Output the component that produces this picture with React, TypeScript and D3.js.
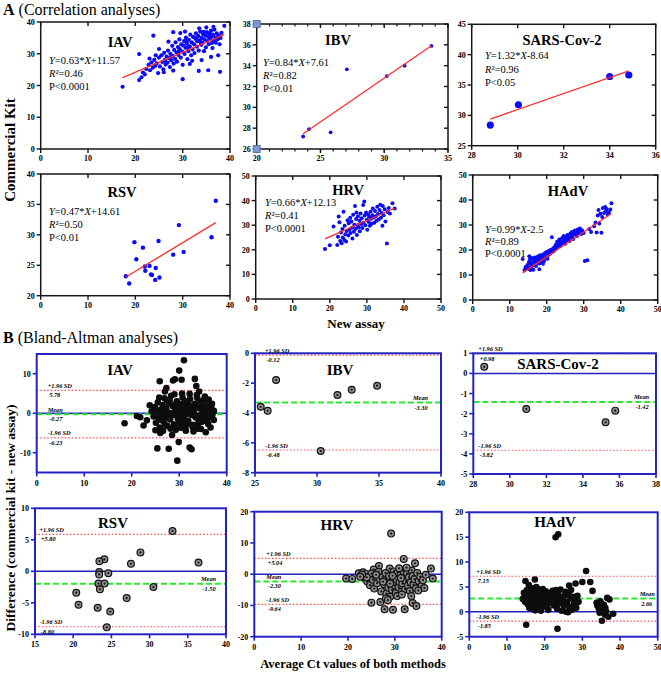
import React from "react";
import * as d3 from "d3";

type Pt = [number, number];

// ---------- A: correlation data  [new assay Ct, commercial kit Ct] ----------
const iavCorr: Pt[] = [
  [17.3, 19.6], [20.8, 21.7], [20.8, 29.9], [23.8, 35.7], [28.0, 36.8], [30.0, 22.0], [37.9, 24.3], [38.8, 38.8],
  [33.4, 24.6], [35.4, 24.8], [21.3, 22.6], [21.6, 24.1],
  [22.0, 23.5], [22.3, 25.2], [22.8, 26.5], [23.1, 24.8], [23.4, 27.3], [23.7, 25.6], [24.0, 28.1], [24.2, 26.2],
  [24.5, 27.0], [24.8, 23.9], [25.0, 28.8], [25.2, 26.0], [25.5, 29.5], [25.7, 27.4], [25.9, 25.1], [26.1, 30.3],
  [26.2, 28.0], [26.4, 26.6], [26.6, 29.1], [26.8, 27.2], [26.9, 31.0], [27.1, 28.6], [27.3, 25.8], [27.4, 30.0],
  [27.6, 27.9], [27.8, 32.5], [27.9, 29.3], [28.1, 26.9], [28.2, 31.2], [28.4, 28.4], [28.5, 33.6], [28.7, 30.4],
  [28.8, 27.5], [29.0, 32.1], [29.1, 29.6], [29.3, 34.5], [29.4, 31.5], [29.6, 28.8], [29.7, 33.0], [29.9, 30.7],
  [30.0, 26.5], [30.1, 32.6], [30.3, 34.0], [30.4, 29.9], [30.6, 31.9], [30.7, 35.1], [30.9, 33.2], [31.0, 28.3],
  [31.2, 30.8], [31.3, 34.4], [31.5, 32.3], [31.6, 36.0], [31.8, 29.5], [31.9, 33.6], [32.1, 31.4], [32.2, 35.3],
  [32.4, 33.0], [32.5, 30.2], [32.7, 34.7], [32.8, 36.4], [33.0, 32.2], [33.1, 33.9], [33.3, 35.6], [33.4, 31.0],
  [33.6, 34.2], [33.7, 37.0], [33.9, 32.8], [34.0, 35.0], [34.2, 33.4], [34.3, 36.2], [34.5, 30.8], [34.6, 34.5],
  [34.8, 35.8], [34.9, 32.0], [35.1, 36.8], [35.2, 34.0], [35.4, 35.3], [35.5, 33.0], [35.7, 36.5], [35.8, 34.8],
  [36.0, 37.3], [36.1, 35.5], [36.3, 31.8], [36.4, 36.0], [36.6, 34.2], [36.7, 37.6], [36.9, 35.1], [37.0, 33.5],
  [37.2, 36.4], [37.4, 34.6], [37.6, 35.8], [37.8, 33.0], [38.0, 35.0], [38.2, 36.6], [26.0, 24.2], [27.0, 33.8],
  [25.0, 31.5], [24.3, 29.5], [23.0, 28.5], [28.0, 24.7], [31.5, 26.8], [32.0, 27.8], [29.5, 36.5], [30.5, 37.0],
  [33.5, 38.0], [35.0, 38.3], [36.5, 38.5], [36.0, 29.0], [37.5, 29.5], [34.0, 28.0], [30.8, 34.2], [32.9, 35.0],
  [34.4, 36.9], [35.6, 35.9], [36.2, 33.4], [31.1, 32.0], [29.2, 30.8], [27.5, 28.9], [26.3, 27.6], [33.8, 33.6],
];
const ibvCorr: Pt[] = [
  [23.64, 27.2], [24.1, 27.9], [25.8, 27.6], [27.07, 33.65], [30.2, 33.0], [31.6, 34.0], [33.7, 35.9],
];
const sarsCorr: Pt[] = [
  [28.81, 28.4], [30.03, 31.75], [34.0, 36.4], [34.83, 36.65],
];
const rsvCorr: Pt[] = [
  [18.0, 23.2], [18.7, 22.0], [19.8, 28.8], [20.2, 26.0], [21.6, 27.9], [22.0, 24.8], [22.1, 24.1], [23.0, 24.9],
  [23.3, 23.5], [23.5, 23.4], [24.3, 24.55], [24.2, 22.6], [24.9, 29.0], [25.1, 23.0], [28.0, 26.75], [29.2, 31.6],
  [30.2, 27.2], [36.1, 29.6], [37.0, 35.6],
];
const hrvCorr: Pt[] = [
  [18.7, 20.3], [20.0, 21.8], [21.0, 29.5], [22.0, 22.0], [22.2, 25.3], [22.4, 33.5], [22.6, 31.2], [22.8, 23.6],
  [23.0, 27.0], [23.2, 22.7], [23.4, 28.5], [23.5, 25.0], [23.7, 35.5], [23.9, 24.0], [24.0, 29.8], [24.2, 26.3],
  [24.4, 23.4], [24.6, 27.6], [24.8, 32.0], [25.0, 25.8], [25.1, 30.8], [25.3, 28.3], [25.5, 33.0], [25.6, 26.8],
  [25.8, 31.5], [26.0, 29.0], [26.1, 24.6], [26.3, 34.2], [26.5, 27.3], [26.6, 30.2], [26.8, 37.8], [27.0, 28.6],
  [27.1, 32.5], [27.3, 26.0], [27.5, 30.0], [27.6, 33.6], [27.8, 29.2], [28.0, 31.8], [28.1, 27.5], [28.3, 34.8],
  [28.5, 30.5], [28.6, 32.8], [28.8, 28.9], [29.0, 38.2], [29.1, 31.0], [29.3, 39.6], [29.4, 33.9], [29.6, 30.0],
  [29.8, 35.2], [30.0, 32.2], [30.1, 28.1], [30.3, 34.5], [30.5, 31.3], [30.6, 33.4], [30.8, 29.8], [31.0, 35.5],
  [31.1, 32.6], [31.3, 30.6], [31.5, 34.0], [31.6, 36.8], [31.8, 33.1], [32.0, 31.0], [32.2, 35.8], [32.4, 33.6],
  [32.6, 31.8], [32.8, 37.5], [33.0, 34.6], [33.2, 32.3], [33.4, 36.2], [33.6, 38.3], [33.8, 33.0], [34.0, 35.0],
  [34.2, 29.8], [34.3, 37.8], [34.5, 34.0], [34.8, 36.5], [35.0, 31.5], [35.4, 22.6], [35.6, 35.4], [35.9, 37.0],
  [36.2, 34.8], [36.9, 38.9], [37.5, 36.8], [27.2, 35.2],
];
const hadvCorr: Pt[] = [
  [13.5, 16.4], [14.0, 12.0], [14.3, 13.2], [14.6, 12.5], [14.8, 14.0], [15.0, 13.0], [15.2, 15.2], [15.3, 17.5],
  [15.4, 12.3], [15.5, 16.3], [15.6, 12.0], [15.7, 14.5], [15.8, 13.4], [16.0, 16.8], [16.1, 15.0], [16.3, 13.8],
  [16.4, 12.1], [16.5, 15.9], [16.7, 14.2], [16.8, 17.0], [17.0, 15.4], [17.1, 13.6], [17.3, 16.4], [17.4, 14.8],
  [17.6, 17.4], [17.7, 15.8], [17.9, 16.8], [18.0, 14.6], [18.0, 12.3], [18.2, 17.9], [18.3, 16.2], [18.5, 15.2],
  [18.6, 17.3], [18.8, 16.0], [19.0, 18.2], [19.0, 14.5], [19.1, 16.9], [19.3, 15.6], [19.4, 17.6], [19.6, 18.8],
  [19.8, 17.0], [20.0, 19.2], [20.2, 16.5], [20.4, 18.0], [20.6, 19.6], [20.8, 18.4], [21.0, 20.0], [21.2, 19.0],
  [21.4, 25.1], [21.6, 20.4], [21.8, 19.4], [22.0, 21.0], [22.2, 20.2], [22.4, 22.0], [22.6, 20.8], [22.8, 23.3],
  [23.0, 21.6], [23.2, 22.7], [23.4, 24.2], [23.6, 21.5], [23.8, 23.6], [24.0, 22.4], [24.2, 24.8], [24.4, 23.2],
  [24.6, 25.6], [24.8, 24.0], [25.0, 22.5], [25.2, 25.2], [25.4, 23.8], [25.6, 26.0], [25.8, 24.6], [26.0, 25.4],
  [26.2, 23.6], [26.4, 26.6], [26.6, 25.0], [26.8, 27.2], [27.0, 25.8], [27.2, 24.4], [27.4, 26.8], [27.6, 27.8],
  [27.8, 26.2], [28.0, 27.4], [28.2, 25.6], [28.4, 28.2], [28.6, 26.8], [28.8, 27.6], [29.0, 28.6], [29.3, 26.4],
  [29.6, 27.8], [30.0, 26.8], [30.3, 15.6], [31.0, 15.9], [31.5, 28.4], [32.0, 27.2], [32.8, 29.5], [33.2, 31.0],
  [33.5, 27.0], [33.8, 33.8], [34.0, 36.0], [34.2, 30.6], [34.5, 34.5], [34.8, 26.9], [35.0, 33.2], [35.2, 36.8],
  [35.5, 34.8], [35.8, 37.2], [36.0, 35.6], [36.2, 36.4], [36.5, 34.2], [36.8, 35.0], [37.2, 36.2], [37.5, 38.7],
];

// regression results printed in each panel
const corrNames = ["IAV", "IBV", "SARS-Cov-2", "RSV", "HRV", "HAdV"];
const corrSlopes = [0.63, 0.84, 1.32, 0.47, 0.66, 0.99];
const corrIntercepts = [11.57, 7.61, -8.64, 14.61, 12.13, -2.5];
const corrR2 = ["0.46", "0.82", "0.96", "0.50", "0.41", "0.89"];
const corrP = ["P<0.0001", "P<0.01", "P<0.05", "P<0.01", "P<0.0001", "P<0.0001"];

// ---------- B: Bland-Altman data  [average Ct, difference] ----------
const iavBA: Pt[] = [
  [18.5, -2.55], [21.1, -0.7], [21.8, -1.0], [22.5, -3.1], [23.2, -1.8], [23.8, 2.0], [24.2, 0.5], [25.4, -8.9],
  [27.8, -9.0], [31.0, 13.4], [30.0, 10.8], [30.5, 8.5], [28.7, 8.3], [29.1, 8.6], [25.9, 8.1], [33.3, 8.7],
  [29.6, -12.0], [32.2, -8.7], [32.6, -9.1], [29.9, -7.3], [37.3, -1.7], [35.6, -4.8], [27.3, 6.4], [33.6, 6.9],
  [34.2, 5.5], [28.5, -5.5], [26.0, -5.0], [27.0, 5.5],
  [24.6, -0.8], [24.9, 1.6], [25.1, -2.4], [25.3, 0.4], [25.5, 2.8], [25.7, -1.2], [25.9, -3.6], [26.1, 0.9],
  [26.3, -0.3], [26.5, 2.1], [26.7, -2.0], [26.9, 3.8], [27.1, -0.9], [27.3, 1.2], [27.5, -3.2], [27.7, 0.2],
  [27.9, 2.5], [28.1, -1.6], [28.3, 4.4], [28.5, -0.5], [28.7, 1.8], [28.9, -2.8], [29.1, 0.6], [29.3, -4.2],
  [29.5, 3.0], [29.7, -1.3], [29.9, 1.1], [30.1, -0.2], [30.3, 2.3], [30.5, -2.5], [30.7, 4.0], [30.9, -0.7],
  [31.1, 1.5], [31.3, -3.5], [31.5, 0.3], [31.7, 2.7], [31.9, -1.9], [32.1, 0.9], [32.3, 3.6], [32.5, -0.4],
  [32.7, 1.9], [32.9, -2.9], [33.1, 0.1], [33.3, 2.4], [33.5, -1.1], [33.7, 4.6], [33.9, -3.9], [34.1, 1.3],
  [34.3, -0.6], [34.5, 2.9], [34.7, -2.2], [34.9, 0.5], [35.1, 3.3], [35.3, -1.5], [35.5, 1.0], [35.7, -0.1],
  [35.9, 2.0], [36.1, -2.7], [36.3, 0.7], [36.5, -1.0], [36.8, 1.4], [37.0, -0.4], [37.3, 0.6],
  [25.0, -4.3], [25.8, 4.0], [26.6, -4.5], [27.4, 3.3], [28.2, -3.9], [29.0, 4.8], [29.8, -3.0], [30.6, 5.0],
  [31.4, -4.4], [32.2, 4.9], [33.0, -4.6], [33.8, 3.9], [34.6, -4.0], [35.4, 4.2], [36.2, 3.5], [36.6, -3.6],
  [30.2, 1.7], [31.0, -1.6], [31.8, -0.2], [32.6, 0.8], [33.4, -0.9], [34.2, -1.3], [35.0, -0.3], [30.8, 0.4],
  [29.4, -0.3], [28.6, 0.0], [27.8, -1.0], [26.8, 0.5], [32.0, 2.0], [33.6, 1.6], [34.8, 1.8], [31.6, -2.8],
  [30.0, -1.8], [29.2, 2.2], [28.0, 3.2], [27.0, -2.9], [26.2, -1.7], [34.0, -2.6], [35.8, -2.0], [36.9, 2.4],
  [32.8, -3.4], [31.2, 3.1], [30.4, -3.7],
];
const ibvBA: Pt[] = [
  [25.46, -3.58], [26.02, -3.85], [26.7, -1.79], [30.3, -6.55], [31.65, -2.8], [32.8, -2.44], [34.85, -2.17],
];
const sarsBA: Pt[] = [
  [28.6, 0.33], [30.9, -1.77], [35.24, -2.43], [35.77, -1.85],
];
const rsvBA: Pt[] = [
  [33.0, 6.4], [28.8, 3.0], [24.08, 1.9], [23.43, 1.6], [27.56, 1.2], [36.4, 1.4], [23.4, -0.1], [23.4, -0.5],
  [24.6, -0.3], [23.3, -1.95], [24.1, -1.95], [23.5, -2.85], [30.5, -2.5], [20.4, -3.4], [20.7, -5.3],
  [27.0, -4.25], [23.2, -5.8], [24.85, -6.4], [24.4, -8.9],
];
const hrvBA: Pt[] = [
  [29.2, 13.0], [19.6, -1.4], [20.9, -1.5], [25.0, -9.1], [26.9, -8.9], [27.8, -11.2], [29.6, -11.4], [32.1, -11.2],
  [31.9, 4.9], [34.3, 3.5], [37.7, 1.8], [38.1, -1.4], [33.8, -9.2], [34.6, -10.2], [26.6, 2.6], [25.5, 1.5],
  [28.9, 1.8],
  [22.3, 0.3], [22.8, -0.5], [23.2, 0.6], [23.5, -1.2], [23.8, 0.1], [24.1, -2.3], [24.4, -0.8], [24.7, -3.5],
  [25.0, 0.2], [25.3, -1.8], [25.6, -4.6], [25.9, -0.4], [26.2, -2.9], [26.5, 0.8], [26.8, -1.5], [27.1, -5.5],
  [27.4, -0.9], [27.7, -3.2], [28.0, 0.4], [28.2, -6.2], [28.4, -2.0], [28.6, -4.3], [28.8, -0.6], [29.0, -7.2],
  [29.2, -2.8], [29.4, -5.0], [29.6, -1.0], [29.8, 0.9], [30.0, -3.6], [30.2, -6.0], [30.4, -1.8], [30.6, 0.5],
  [30.8, -4.2], [31.0, -2.5], [31.2, -0.3], [31.4, -5.6], [31.6, -3.0], [31.8, 1.0], [32.0, -1.4], [32.2, -4.8],
  [32.4, -2.2], [32.6, 0.2], [32.8, -3.6], [33.0, -1.0], [33.2, -5.4], [33.4, -2.6], [33.6, 1.2], [33.8, -0.6],
  [34.0, -3.4], [34.2, -1.6], [34.5, -4.6], [34.8, 0.4], [35.1, -2.2], [35.4, -0.8], [35.7, -3.8], [36.0, -1.9],
  [36.3, -4.4], [36.6, -0.2], [28.1, -7.8], [28.5, -8.3], [29.0, -3.0], [30.5, -7.0], [31.5, -6.5], [27.5, -2.4],
  [26.0, -0.2], [24.0, -1.0], [23.0, -0.1], [22.6, -0.8], [33.5, -7.0], [35.0, -5.2], [30.9, 1.9], [32.5, 2.1],
  [29.5, -0.5], [31.3, -1.2],
];
const hadvBA: Pt[] = [
  [22.9, 15.0], [23.6, 15.6], [23.4, -3.4], [15.1, -2.6], [31.0, 8.2], [35.2, -1.8], [38.2, -0.4], [30.0, 6.0],
  [32.1, 6.0], [32.7, 4.2], [14.9, 6.2], [17.4, 6.5], [28.2, 5.7], [26.5, 5.3],
  [14.2, 2.6], [14.5, 3.8], [14.8, 2.0], [15.0, 3.3], [15.3, 4.4], [15.5, 1.5], [15.7, 2.8], [15.9, 0.8],
  [16.1, 3.6], [16.3, 2.2], [16.5, 4.8], [16.7, 1.2], [16.9, 3.0], [17.1, 2.0], [17.3, 4.2], [17.5, 0.3],
  [17.6, 2.6], [17.8, 3.5], [18.0, 1.6], [18.2, 4.6], [18.4, 2.3], [18.6, 0.9], [18.8, 3.2], [19.0, 1.9],
  [19.2, 3.9], [19.4, 2.7], [19.6, 1.1], [19.8, 3.4], [20.0, 2.2], [20.3, 4.1], [20.6, 1.5], [20.9, 2.9],
  [21.2, 3.7], [21.5, 1.8], [21.8, 2.6], [22.1, 4.2], [22.4, 1.3], [22.7, 3.1], [23.0, 2.0], [23.3, 0.6],
  [23.6, 3.5], [23.9, 1.7], [24.2, 4.5], [24.5, 0.2], [24.8, 2.4], [25.1, 1.2], [25.4, 3.3], [25.7, 0.0],
  [26.0, 2.0], [26.3, 3.6], [26.6, 1.0], [26.9, 2.7], [27.2, 0.4], [27.5, 3.0], [27.8, 1.6], [28.1, 2.4],
  [28.4, 0.8], [28.7, 3.2], [29.0, 2.0], [16.0, 1.0], [17.0, 0.5], [18.5, 1.4], [19.5, 4.6], [20.5, 0.9],
  [21.0, 0.4], [22.0, 2.0], [24.0, 3.0], [25.5, 4.0], [27.0, 4.4], [17.8, 5.0], [15.8, 5.4], [19.0, 0.2],
  [23.0, 4.4], [26.2, -0.1], [34.0, 1.2], [34.4, 0.6], [34.8, 2.1], [35.0, 1.6], [35.4, 0.4], [35.7, 1.4],
  [36.0, -0.6], [36.3, 0.1], [36.6, 2.8], [36.9, -1.0], [37.2, 2.5], [36.1, 0.8], [34.6, -0.2], [33.8, 1.8],
];

// limits of agreement: [upper, mean, lower] line positions and printed labels
const baLimitValues = [
  [5.78, -0.27, -6.23],
  [-0.12, -3.3, -6.48],
  [0.98, -1.42, -3.82],
  [5.85, -1.97, -8.8],
  [5.04, -2.3, -9.64],
  [7.15, 2.66, -1.85],
];
const baLimitLabels = [
  ["5.78", "-0.27", "-6.23"],
  ["-0.12", "-3.30", "-6.48"],
  ["+0.98", "-1.42", "-3.82"],
  ["+5.80", "-1.50", "-8.80"],
  ["+5.04", "-2.30", "-9.64"],
  ["7.15", "2.66", "-1.85"],
];

// tick values
const t0to40 = [0, 10, 20, 30, 40];
const t0to50 = [0, 10, 20, 30, 40, 50];
const ibvXTicks = [20, 25, 30, 35];
const ibvYTicks = [26, 28, 30, 32, 34, 36, 38];
const sarsXTicks = [28, 30, 32, 34, 36];
const sarsYTicks = [25, 30, 35, 40, 45];
const rsvYTicks = [20, 25, 30, 35, 40];
const iavBaYTicks = [-10, 0, 10];
const ibvBaXTicks = [25, 30, 35, 40];
const ibvBaYTicks = [0, -2, -4, -6, -8];
const sarsBaXTicks = [28, 30, 32, 34, 36, 38];
const sarsBaYTicks = [1, 0, -1, -2, -3, -4, -5];
const rsvBaXTicks = [15, 20, 25, 30, 35, 40];
const rsvBaYTicks = [-10, -5, 0, 5, 10];
const hrvBaYTicks = [-20, -10, 0, 10, 20];
const hadvBaYTicks = [-5, 0, 5, 10, 15, 20];

const FONT = "'Liberation Serif', 'Times New Roman', serif";
const FRAME_BLUE = "#2323c2";
const DOT_BLUE = "#0b0bf5";
const FIT_RED = "#ff2d2d";

type Box = { l: number; r: number; t: number; b: number };

type CorrSpec = {
  idx: number;
  box: Box;
  xDomain: [number, number];
  yDomain: [number, number];
  xTicks: number[];
  yTicks: number[];
  xMinor?: number;
  points: Pt[];
  r: number;
  title: [number, number];
  eq: [number, number];
  gap: number;
  corner?: boolean;
};

const corrSpecs: CorrSpec[] = [
  { idx: 0, box: { l: 40.7, r: 230, t: 22, b: 149 }, xDomain: [0, 40], yDomain: [0, 40], xTicks: t0to40, yTicks: t0to40, points: iavCorr, r: 2.1, title: [120, 47], eq: [49, 64], gap: 13 },
  { idx: 1, box: { l: 256.7, r: 448, t: 24, b: 149 }, xDomain: [20, 35], yDomain: [26, 38], xTicks: ibvXTicks, yTicks: ibvYTicks, xMinor: 1, points: ibvCorr, r: 1.9, title: [338, 45], eq: [263, 66], gap: 13, corner: true },
  { idx: 2, box: { l: 471.7, r: 655.7, t: 24.3, b: 145.7 }, xDomain: [28, 36], yDomain: [25, 45], xTicks: sarsXTicks, yTicks: sarsYTicks, points: sarsCorr, r: 3.6, title: [562, 45], eq: [485, 59], gap: 13.5 },
  { idx: 3, box: { l: 40.7, r: 230, t: 174, b: 295.7 }, xDomain: [0, 40], yDomain: [20, 40], xTicks: t0to40, yTicks: rsvYTicks, points: rsvCorr, r: 2.2, title: [122, 197], eq: [49, 215], gap: 13 },
  { idx: 4, box: { l: 255.7, r: 441, t: 176, b: 299 }, xDomain: [0, 50], yDomain: [0, 50], xTicks: t0to50, yTicks: t0to50, points: hrvCorr, r: 2.0, title: [348, 195], eq: [265, 206], gap: 13 },
  { idx: 5, box: { l: 472.7, r: 657.7, t: 175, b: 300 }, xDomain: [0, 50], yDomain: [0, 50], xTicks: t0to50, yTicks: t0to50, points: hadvCorr, r: 2.0, title: [568, 196], eq: [485, 233], gap: 11.8 },
];

type BASpec = {
  idx: number;
  box: Box;
  xDomain: [number, number];
  yDomain: [number, number];
  xTicks: number[];
  yTicks: number[];
  points: Pt[];
  solid: boolean;
  title: [number, number];
  bold: boolean;
  sides: ("L" | "R")[];
  lx: number;
  rx: number;
};

const baNames = ["IAV", "IBV", "SARS-Cov-2", "RSV", "HRV", "HAdV"];
const baSpecs: BASpec[] = [
  { idx: 0, box: { l: 36.7, r: 226.7, t: 354, b: 472.5 }, xDomain: [0, 40], yDomain: [-15, 15], xTicks: t0to40, yTicks: iavBaYTicks, points: iavBA, solid: true, title: [120, 375], bold: true, sides: ["L", "L", "L"], lx: 11, rx: 0 },
  { idx: 1, box: { l: 255, r: 441, t: 353.3, b: 472.7 }, xDomain: [25, 40], yDomain: [-8, 0], xTicks: ibvBaXTicks, yTicks: ibvBaYTicks, points: ibvBA, solid: false, title: [340, 375], bold: false, sides: ["L", "R", "L"], lx: 10, rx: 28 },
  { idx: 2, box: { l: 473.3, r: 656, t: 353.3, b: 474 }, xDomain: [28, 38], yDomain: [-5, 1], xTicks: sarsBaXTicks, yTicks: sarsBaYTicks, points: sarsBA, solid: false, title: [558, 369], bold: true, sides: ["L", "R", "L"], lx: 5, rx: 22 },
  { idx: 3, box: { l: 35, r: 226, t: 508.3, b: 634.3 }, xDomain: [15, 40], yDomain: [-10, 10], xTicks: rsvBaXTicks, yTicks: rsvBaYTicks, points: rsvBA, solid: false, title: [113, 528], bold: false, sides: ["L", "R", "L"], lx: 4.5, rx: 25 },
  { idx: 4, box: { l: 254.3, r: 441.7, t: 511.7, b: 636.7 }, xDomain: [0, 40], yDomain: [-20, 20], xTicks: t0to40, yTicks: hrvBaYTicks, points: hrvBA, solid: false, title: [337, 530], bold: false, sides: ["L", "L", "L"], lx: 12, rx: 0 },
  { idx: 5, box: { l: 469.3, r: 657.7, t: 512.3, b: 636.7 }, xDomain: [0, 50], yDomain: [-5, 20], xTicks: t0to50, yTicks: hadvBaYTicks, points: hadvBA, solid: true, title: [555, 527], bold: false, sides: ["L", "R", "L"], lx: 7, rx: 18 },
];

function CorrPanel({ p }: { p: CorrSpec }) {
  const { box } = p;
  const x = d3.scaleLinear().domain(p.xDomain).range([box.l, box.r]);
  const y = d3.scaleLinear().domain(p.yDomain).range([box.b, box.t]);
  const slope = corrSlopes[p.idx];
  const icpt = corrIntercepts[p.idx];
  const ext = d3.extent(p.points, (d) => d[0]) as [number, number];
  const fit = d3.line<number>().x((v) => x(v)).y((v) => y(slope * v + icpt))(ext) || "";
  const minor = p.xMinor ? d3.range(p.xDomain[0], p.xDomain[1] + 0.001, p.xMinor) : [];
  const ink = "#161616";
  return (
    <g>
      <rect x={box.l} y={box.t} width={box.r - box.l} height={box.b - box.t} fill="none" stroke={ink} strokeWidth={1.5} />
      {minor.map((t) => (
        <g key={"m" + t}>
          <line x1={x(t)} x2={x(t)} y1={box.b} y2={box.b + 2.5} stroke={ink} strokeWidth={1.2} />
          <line x1={x(t)} x2={x(t)} y1={box.t} y2={box.t + 2.5} stroke={ink} strokeWidth={1.2} />
        </g>
      ))}
      {p.xTicks.map((t) => (
        <g key={"x" + t}>
          <line x1={x(t)} x2={x(t)} y1={box.b} y2={box.b + 4} stroke={ink} strokeWidth={1.4} />
          <line x1={x(t)} x2={x(t)} y1={box.t} y2={box.t + 4} stroke={ink} strokeWidth={1.4} />
          <text x={x(t)} y={box.b + 12} textAnchor="middle" fontSize={8} fontWeight="bold">{t}</text>
        </g>
      ))}
      {p.yTicks.map((t) => (
        <g key={"y" + t}>
          <line x1={box.l - 4} x2={box.l} y1={y(t)} y2={y(t)} stroke={ink} strokeWidth={1.4} />
          <line x1={box.r - 4} x2={box.r} y1={y(t)} y2={y(t)} stroke={ink} strokeWidth={1.4} />
          <text x={box.l - 6} y={y(t) + 3} textAnchor="end" fontSize={8} fontWeight="bold">{t}</text>
        </g>
      ))}
      {p.corner && [box.t, box.b].map((cy) => (
        <rect key={"c" + cy} x={box.l - 3.5} y={cy - 3.5} width={7} height={7} fill="#7c97c9" stroke="#4d6aa6" strokeWidth={0.8} />
      ))}
      {p.points.map((d, i) => (
        <circle key={i} cx={x(d[0])} cy={y(d[1])} r={p.r} fill={DOT_BLUE} />
      ))}
      <path d={fit} stroke={FIT_RED} strokeWidth={1.3} fill="none" />
      <text x={p.title[0]} y={p.title[1]} textAnchor="middle" fontSize={14.5} fontWeight="bold">{corrNames[p.idx]}</text>
      <g fontSize={10.5}>
        <text x={p.eq[0]} y={p.eq[1]}>
          <tspan fontStyle="italic">Y</tspan>
          <tspan>{"=" + slope + "*"}</tspan>
          <tspan fontStyle="italic">X</tspan>
          <tspan>{(icpt < 0 ? "-" : "+") + Math.abs(icpt)}</tspan>
        </text>
        <text x={p.eq[0]} y={p.eq[1] + p.gap}>
          <tspan fontStyle="italic">R</tspan>
          <tspan>{"\u00b2=" + corrR2[p.idx]}</tspan>
        </text>
        <text x={p.eq[0]} y={p.eq[1] + 2 * p.gap}>{corrP[p.idx]}</text>
      </g>
    </g>
  );
}

function BAPanel({ p }: { p: BASpec }) {
  const { box } = p;
  const x = d3.scaleLinear().domain(p.xDomain).range([box.l, box.r]);
  const y = d3.scaleLinear().domain(p.yDomain).range([box.b, box.t]);
  const vals = baLimitValues[p.idx];
  const labs = baLimitLabels[p.idx];
  const heads = ["+1.96 SD", "Mean", "-1.96 SD"];
  const hasZero = p.yDomain[0] < 0 && p.yDomain[1] > 0;
  return (
    <g>
      {hasZero && (
        <line x1={box.l} x2={box.r} y1={y(0)} y2={y(0)} stroke={FRAME_BLUE} strokeWidth={1.5} />
      )}
      {vals.map((v, i) => (
        <line
          key={"l" + i}
          x1={box.l}
          x2={box.r}
          y1={y(v)}
          y2={y(v)}
          stroke={i === 1 ? "#2ee62e" : "#ff4d4d"}
          strokeWidth={i === 1 ? 2 : 1.2}
          strokeDasharray={i === 1 ? "6,3" : "1.5,2"}
        />
      ))}
      {p.points.map((d, i) =>
        p.solid ? (
          <circle key={i} cx={x(d[0])} cy={y(d[1])} r={3.3} fill="#0d0d0d" />
        ) : (
          <g key={i}>
            <circle cx={x(d[0])} cy={y(d[1])} r={3.4} fill="#8d8d8d" stroke="#111" strokeWidth={1.2} />
            <circle cx={x(d[0])} cy={y(d[1])} r={1.1} fill="#111" />
          </g>
        )
      )}
      <rect x={box.l} y={box.t} width={box.r - box.l} height={box.b - box.t} fill="none" stroke={FRAME_BLUE} strokeWidth={2} />
      {p.xTicks.map((t) => (
        <g key={"x" + t}>
          <line x1={x(t)} x2={x(t)} y1={box.b} y2={box.b + 4} stroke={FRAME_BLUE} strokeWidth={1.6} />
          <text x={x(t)} y={box.b + 13} textAnchor="middle" fontSize={8} fontWeight="bold">{t}</text>
        </g>
      ))}
      {p.yTicks.map((t) => (
        <g key={"y" + t}>
          <line x1={box.l - 4} x2={box.l} y1={y(t)} y2={y(t)} stroke={FRAME_BLUE} strokeWidth={1.6} />
          <text x={box.l - 6} y={y(t) + 3} textAnchor="end" fontSize={8} fontWeight="bold">{t}</text>
        </g>
      ))}
      {vals.map((v, i) => {
        const left = p.sides[i] === "L";
        const tx = left ? box.l + p.lx : box.r - p.rx;
        return (
          <g key={"a" + i} fontSize={6.3} fontStyle="italic" fontWeight={600}>
            <text x={tx} y={y(v) - 2.5}>{heads[i]}</text>
            <text x={tx + 1.5} y={y(v) + 7}>{labs[i]}</text>
          </g>
        );
      })}
      <text x={p.title[0]} y={p.title[1]} textAnchor="middle" fontSize={15} fontWeight={p.bold ? "bold" : 600}>{baNames[p.idx]}</text>
    </g>
  );
}

export default function App() {
  return (
    <svg
      width={661}
      height={673}
      style={{ position: "absolute", left: 0, top: 0, background: "#fff" }}
      fontFamily={FONT}
    >
      <rect width={661} height={673} fill="#fff" />
      <text x={3} y={15} fontSize={16}>
        <tspan fontWeight="bold">A</tspan>
        <tspan> (Correlation analyses)</tspan>
      </text>
      {corrSpecs.map((p) => (
        <CorrPanel key={"c" + p.idx} p={p} />
      ))}
      <text transform="translate(15,150) rotate(-90)" textAnchor="middle" fontSize={15} fontWeight="bold">Commercial Kit</text>
      <text x={356} y={328} textAnchor="middle" fontSize={13} fontWeight="bold">New assay</text>

      <text x={3} y={343} fontSize={16}>
        <tspan fontWeight="bold">B</tspan>
        <tspan> (Bland-Altman analyses)</tspan>
      </text>
      {baSpecs.map((p) => (
        <BAPanel key={"b" + p.idx} p={p} />
      ))}
      <text transform="translate(15,518) rotate(-90)" textAnchor="middle" fontSize={13.5} fontWeight="bold">Difference (commercial kit - new assay)</text>
      <text x={353} y={668} textAnchor="middle" fontSize={12.5} fontWeight="bold">Average Ct values of both methods</text>
    </svg>
  );
}
